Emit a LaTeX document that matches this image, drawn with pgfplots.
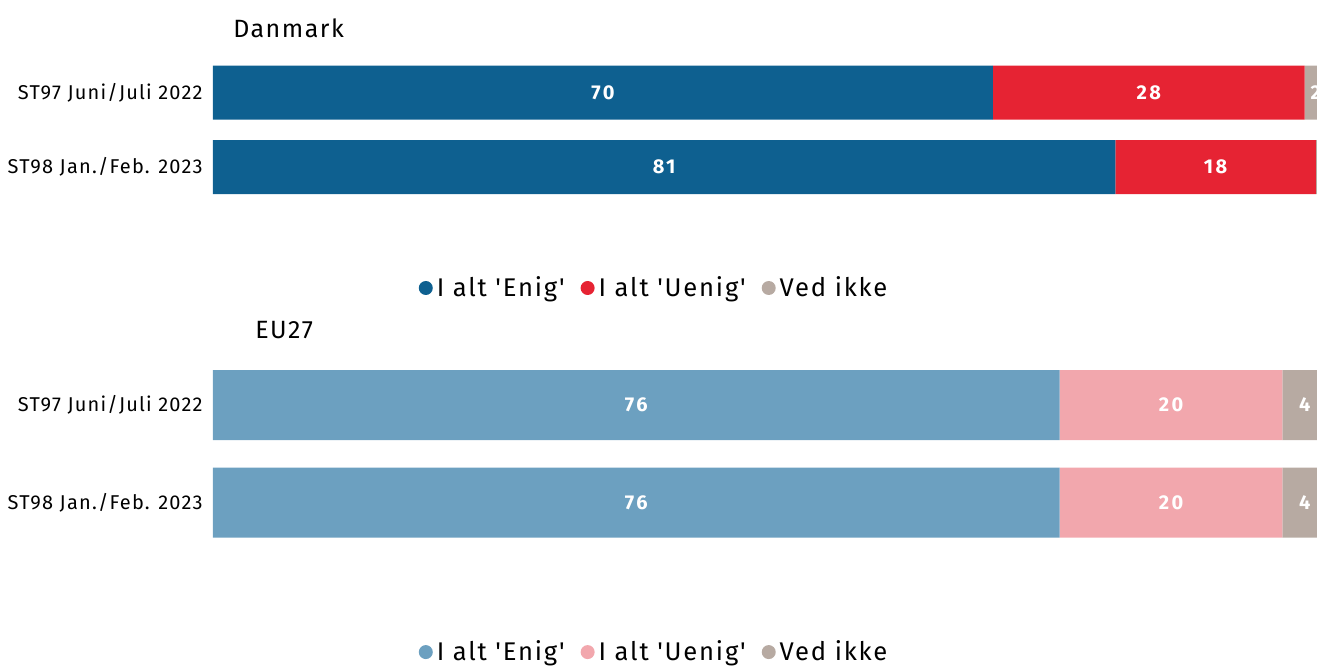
\documentclass[border=0pt]{standalone}
\usepackage{pgfplots}
\pgfplotsset{compat=1.18}
\usepackage{fontspec}
\setmainfont{Fira Sans}[Ligatures=TeXOff]
\newfontfamily\labfont{Fira Sans}[Ligatures=TeXOff, LetterSpace=6]
\newfontfamily\legfont{Fira Sans}[Ligatures=TeXOff, LetterSpace=7]
\newfontfamily\valfont{Fira Sans}[Ligatures=TeXOff, LetterSpace=12]

\definecolor{enigDK}{HTML}{0E6090}
\definecolor{uenigDK}{HTML}{E62333}
\definecolor{vedikke}{HTML}{B7AAA2}
\definecolor{enigEU}{HTML}{6CA0C0}
\definecolor{uenigEU}{HTML}{F2A7AD}

\pgfplotsset{
  panel/.style={
    xbar stacked, scale only axis, clip=false,
    xmin=0, xmax=99.1, x=5.57pt,
    ymin=-0.5, ymax=1.5,
    ytick={0,1},
    yticklabels={ST98 Jan./Feb. 2023, ST97 Juni/Juli 2022},
    xtick=\empty,
    axis line style={draw=none},
    major tick length=0pt,
    yticklabel style={font=\labfont\fontsize{10}{12}\selectfont, inner sep=0pt, xshift=-5pt},
    /pgf/number format/assume math mode=true,
    nodes near coords, point meta=explicit,
    every node near coord/.append style={font=\valfont\bfseries\fontsize{10}{12}\selectfont,
      text=white, anchor=center},
    legend columns=3,
    legend style={draw=none, fill=none, anchor=center,
      font=\legfont\fontsize{12.8}{14}\selectfont,
      /tikz/every even column/.append style={column sep=6pt},
      inner sep=0pt},
    legend image code/.code={\fill[##1] (0.1em,0pt) circle (3.5pt);},
  },
}

\begin{document}
\begin{tikzpicture}
\useasboundingbox (0pt,0pt) rectangle (658.5pt,-333pt);
\clip (0pt,0pt) rectangle (658.5pt,-333pt);

% Danmark
\begin{axis}[panel,
    y=37.25pt, bar width=27pt,
    at={(106.5pt,-102.125pt)}, anchor=south west,
    legend style={at={(0.4004,-0.562)}}]
  \addplot+[fill=enigDK, draw=none] coordinates {(70,1) [70] (81,0) [81]};
  \addplot+[fill=uenigDK, draw=none] coordinates {(28,1) [28] (18,0) [18]};
  \addplot+[fill=vedikke, draw=none] coordinates {(2,1) [2] (1,0) [1]};
  \legend{I alt 'Enig', I alt 'Uenig', Ved ikke}
  \node[anchor=west, font=\labfont\fontsize{12.5}{14}\selectfont, inner sep=0pt]
    at (axis description cs:0.018,1.183) {Danmark};
\end{axis}

% EU27
\begin{axis}[panel,
    y=48.75pt, bar width=35pt,
    at={(106.5pt,-275.625pt)}, anchor=south west,
    legend style={at={(0.4004,-0.517)}}]
  \addplot+[fill=enigEU, draw=none] coordinates {(76,1) [76] (76,0) [76]};
  \addplot+[fill=uenigEU, draw=none] coordinates {(20,1) [20] (20,0) [20]};
  \addplot+[fill=vedikke, draw=none] coordinates {(4,1) [4] (4,0) [4]};
  \legend{I alt 'Enig', I alt 'Uenig', Ved ikke}
  \node[anchor=west, font=\labfont\fontsize{12.5}{14}\selectfont, inner sep=0pt]
    at (axis description cs:0.038,1.1346) {EU27};
\end{axis}
\end{tikzpicture}
\end{document}
